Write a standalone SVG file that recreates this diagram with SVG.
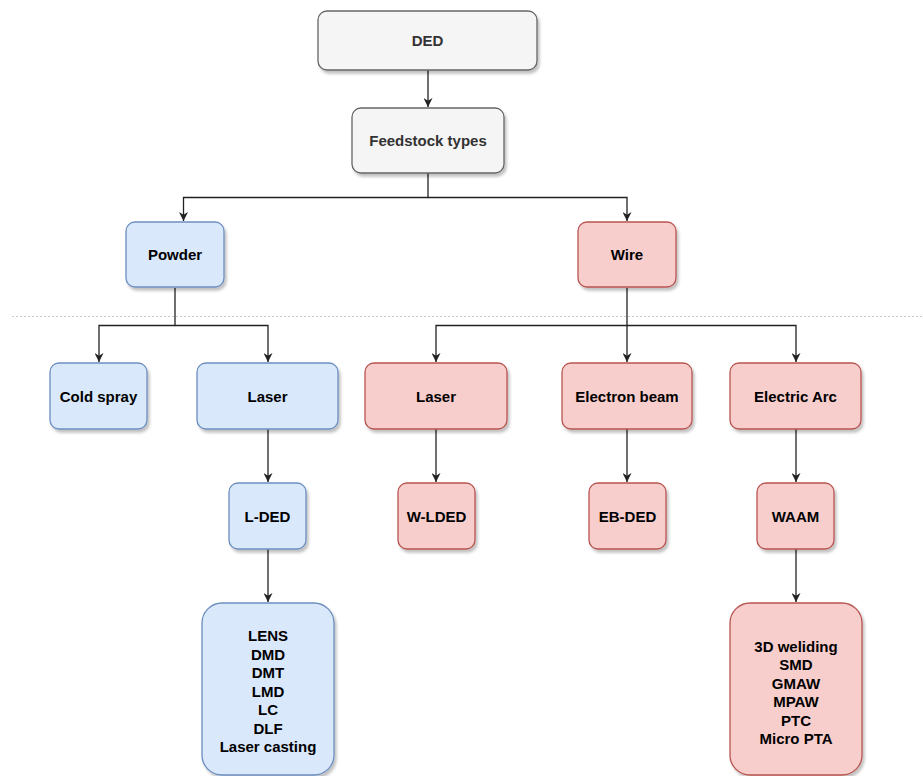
<svg xmlns="http://www.w3.org/2000/svg" width="923" height="776" viewBox="0 0 923 776">
<defs>
<filter id="sh" x="-20%" y="-20%" width="140%" height="140%">
<feGaussianBlur in="SourceAlpha" stdDeviation="1.5"/>
<feOffset dx="2" dy="3" result="o"/>
<feComponentTransfer><feFuncA type="linear" slope="0.25"/></feComponentTransfer>
<feMerge><feMergeNode/><feMergeNode in="SourceGraphic"/></feMerge>
</filter>
<marker id="ah" viewBox="0 0 10 10" refX="10" refY="5" markerWidth="9" markerHeight="9" markerUnits="userSpaceOnUse" orient="auto">
<path d="M0,0 L10,5 L0,10 L3,5 Z" fill="#222"/>
</marker>
</defs>
<style>
rect{stroke-width:1.3;filter:url(#sh)}
.g{fill:#f5f5f5;stroke:#666666}
.b{fill:#dae8fc;stroke:#6c8ebf}
.r{fill:#f8cecc;stroke:#b85450}
text{font-family:"Liberation Sans",Arial,sans-serif;font-weight:bold;font-size:15px;text-anchor:middle;fill:#000}
.g + text{fill:#333333}
.c path{fill:none;stroke:#222;stroke-width:1.3;marker-end:url(#ah)}
.c line{stroke:#222;stroke-width:1.3}
</style>
<rect width="923" height="776" fill="#ffffff" style="filter:none;stroke:none"/>
<line x1="12" y1="316.5" x2="923" y2="316.5" stroke="#cccccc" stroke-width="1" stroke-dasharray="2,2"/>

<g class="c" id="connectors">
<path d="M428,70 V107"/>
<path d="M428,173 V197.5 H183.5 V221"/>
<path d="M428,197.5 H627 V221"/>
<path d="M175,288 V325.5 H99 V362"/>
<path d="M175,325.5 H268 V362"/>
<path d="M627,288 V325.5 H436 V362"/>
<path d="M627,325.5 V362"/>
<path d="M627,325.5 H796 V362"/>
<path d="M268,429 V482"/>
<path d="M436,429 V482"/>
<path d="M627,429 V482"/>
<path d="M796,429 V482"/>
<path d="M268,549 V602"/>
<path d="M796,549 V602"/>
</g>

<g id="ded"><rect class="g" x="318" y="11" width="219" height="59" rx="9"/><text x="427.5" y="46" fill="#333">DED</text></g>
<g id="feedstock"><rect class="g" x="352" y="108" width="152" height="65" rx="9"/><text x="428" y="146" fill="#333">Feedstock types</text></g>
<g id="powder"><rect class="b" x="126" y="222" width="98" height="65" rx="9"/><text x="175" y="260">Powder</text></g>
<g id="wire"><rect class="r" x="578" y="222" width="98" height="65" rx="9"/><text x="627" y="260">Wire</text></g>
<g id="coldspray"><rect class="b" x="50" y="363" width="97" height="66" rx="9"/><text x="98.5" y="401.5">Cold spray</text></g>
<g id="laser-powder"><rect class="b" x="197" y="363" width="141" height="66" rx="9"/><text x="267.5" y="401.5">Laser</text></g>
<g id="laser-wire"><rect class="r" x="365" y="363" width="142" height="66" rx="9"/><text x="436" y="401.5">Laser</text></g>
<g id="electron-beam"><rect class="r" x="562" y="363" width="130" height="66" rx="9"/><text x="627" y="401.5">Electron beam</text></g>
<g id="electric-arc"><rect class="r" x="730" y="363" width="131" height="66" rx="9"/><text x="795.5" y="401.5">Electric Arc</text></g>
<g id="lded"><rect class="b" x="229" y="483" width="77" height="66" rx="9"/><text x="267.5" y="521.5">L-DED</text></g>
<g id="wlded"><rect class="r" x="398" y="483" width="77" height="66" rx="9"/><text x="436.5" y="521.5">W-LDED</text></g>
<g id="ebded"><rect class="r" x="589" y="483" width="77" height="66" rx="9"/><text x="627.5" y="521.5">EB-DED</text></g>
<g id="waam"><rect class="r" x="757" y="483" width="77" height="66" rx="9"/><text x="795.5" y="521.5">WAAM</text></g>
<g id="lded-list"><rect class="b" x="202" y="603" width="132" height="172" rx="20"/>
<text x="268" y="641">LENS</text>
<text x="268" y="659.5">DMD</text>
<text x="268" y="678">DMT</text>
<text x="268" y="696.5">LMD</text>
<text x="268" y="715">LC</text>
<text x="268" y="733.5">DLF</text>
<text x="268" y="752">Laser casting</text>
</g>
<g id="waam-list"><rect class="r" x="730" y="603" width="132" height="172" rx="20"/>
<text x="796" y="651.5">3D weliding</text>
<text x="796" y="670">SMD</text>
<text x="796" y="688.5">GMAW</text>
<text x="796" y="707">MPAW</text>
<text x="796" y="725.5">PTC</text>
<text x="796" y="744">Micro PTA</text>
</g>
</svg>
